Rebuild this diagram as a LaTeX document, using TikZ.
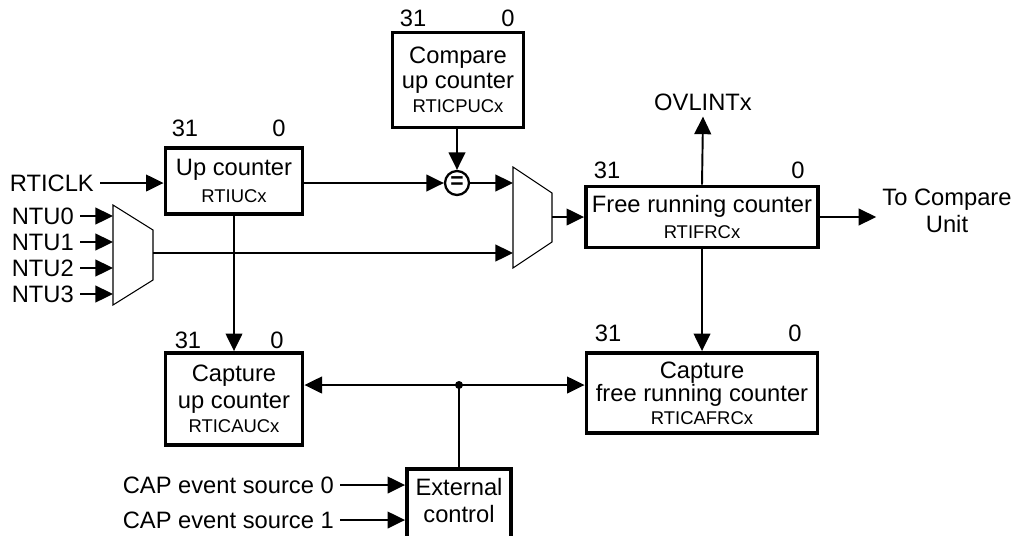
\documentclass[tikz,border=0pt]{standalone}
\usepackage{fontspec}
\setmainfont{Liberation Sans}
\usetikzlibrary{arrows.meta}

\newcommand{\regname}[1]{{\fontsize{10.5}{12}\selectfont #1}}

\begin{document}
\begin{tikzpicture}[x=0.02cm, y=-0.02cm,
    every node/.style = {font=\fontsize{13.5}{16}\selectfont},
    reg/.style = {draw, line width=2.2pt, align=center, inner sep=0pt},
    wire/.style = {line width=1.1pt},
    arr/.style = {wire, -{Triangle[length=10pt, width=9.5pt]}},
    arrboth/.style = {wire, {Triangle[length=10pt, width=9.5pt]}-{Triangle[length=10pt, width=9.5pt]}},
    mux/.style = {line width=0.6pt}]
    \useasboundingbox (0,0) rectangle (1013,535);

    % registers
    \node[reg, minimum width=137*0.02cm, minimum height=66*0.02cm] at (234,181) (up) {Up counter\\[-1pt]\regname{RTIUCx}};
    \node[reg, minimum width=131*0.02cm, minimum height=95*0.02cm] at (458,80) (cmp) {Compare\\[-2pt]up counter\\[-2pt]\regname{RTICPUCx}};
    \node[reg, minimum width=232*0.02cm, minimum height=61*0.02cm] at (702,217) (frc) {Free running counter\\[-1pt]\regname{RTIFRCx}};
    \node[reg, minimum width=137*0.02cm, minimum height=92*0.02cm] at (234,399) (capuc) {Capture\\[-1pt]up counter\\[-2pt]\regname{RTICAUCx}};
    \node[reg, minimum width=231*0.02cm, minimum height=80*0.02cm] at (702,393) (capfrc) {Capture\\[-3pt]free running counter\\[-3pt]\regname{RTICAFRCx}};
    \node[reg, anchor=north, minimum width=104*0.02cm, minimum height=80*0.02cm] at (459,467) (ext) {};
    \node at (459,487) (exttop) {External};
    \node at (459,514) (extbot) {control};

    % bit numbers
    \node at (185,128) (up31) {31};
    \node at (279,128) (up0) {0};
    \node at (413,18) (cmp31) {31};
    \node at (508,18) (cmp0) {0};
    \node at (607,170) (frc31) {31};
    \node at (798,170) (frc0) {0};
    \node at (608,333) (capfrc31) {31};
    \node at (795,333) (capfrc0) {0};
    \node at (188,340) (capuc31) {31};
    \node at (277,340) (capuc0) {0};

    % multiplexers
    \draw[mux] (113,205) -- (153,230) -- (153,280) -- (113,305) -- cycle;
    \coordinate (m1w) at (113,255);
    \coordinate (m1e) at (153,253);
    \draw[mux] (513,167) -- (552,193) -- (552,242) -- (513,268) -- cycle;
    \coordinate (m2w) at (513,217);
    \coordinate (m2e) at (552,217);

    % comparator
    \node[draw, circle, line width=1.3pt, minimum size=24*0.02cm, inner sep=0pt, font=\bfseries\fontsize{13}{13}\selectfont] at (457,183) (eq) {=};

    % inputs
    \node[anchor=east] at (100,183) (rticlk) {RTICLK};
    \foreach \i in {0,...,3}
        \node[anchor=east] at (80,216+26*\i) (ntu\i) {NTU\i};
    \node[anchor=east] at (340,485) (cap0) {CAP event source 0};
    \node[anchor=east] at (340,520) (cap1) {CAP event source 1};

    % outputs
    \node at (703,102) (ovl) {OVLINTx};
    \node[align=center] at (947,211) (tocmp) {To Compare\\[-1pt]Unit};

    \draw[arr] (rticlk.east) -- (rticlk.east -| up.west);
    \foreach \i in {0,...,3}
        \draw[arr] (ntu\i.east) -- (ntu\i.east -| m1w);
    \draw[arr] (eq -| up.east) -- (eq.west);
    \draw[arr] (cmp.south -| eq) -- (eq.north);
    \draw[arr] (eq.east) -- (eq -| m2w);
    \draw[arr] (m1e) -- (m1e -| m2w);
    \draw[arr] (m2e) -- (m2e -| frc.west);
    \draw[arr] (frc.north) -- (ovl.south);
    \draw[arr] (frc.east) -- (tocmp.west |- frc.east);
    \draw[arr] (frc.south) -- (capfrc.north);
    \draw[arr] (up.south) -- (capuc.north);

    % capture trigger
    \coordinate (trig) at (459,385);
    \draw[arrboth] (capuc.east |- trig) -- (capfrc.west |- trig);
    \fill (trig) circle (4);
    \draw[wire] (trig) -- (ext.north);
    \draw[arr] (cap0.east) -- (cap0.east -| ext.west);
    \draw[arr] (cap1.east) -- (cap1.east -| ext.west);
\end{tikzpicture}
\end{document}
